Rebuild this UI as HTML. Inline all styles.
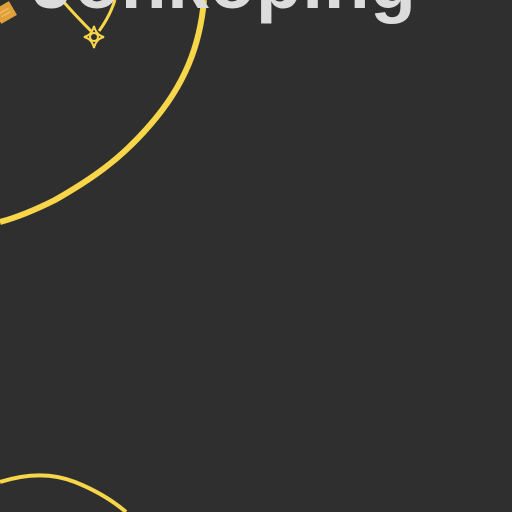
<!DOCTYPE html>
<html><head><style>
body{margin:0;width:512px;height:512px;overflow:hidden;background:#2f2f2f;position:relative;font-family:"Liberation Sans",sans-serif}
#label{position:absolute;left:32px;top:-55px;font-size:75px;font-weight:bold;color:#dcdcdc;white-space:nowrap;line-height:75px;letter-spacing:0.6px}
</style></head><body>
<svg width="512" height="512" style="position:absolute;left:0;top:0">
<path d="M204,0 C200,45 185,85 150,125 C120,160 90,180 55,200 C35,210 15,218 0,222" stroke="#f7d64a" stroke-width="6" fill="none"/>
<path d="M0,482 C25,474 50,472 75,482 C95,490 112,500 126,512" stroke="#f7d64a" stroke-width="4" fill="none"/>
<path d="M62,0 C75,15 85,25 91,31" stroke="#f7d64a" stroke-width="3" fill="none"/>
<path d="M115,0 C110,15 104,24 99,31" stroke="#f7d64a" stroke-width="3" fill="none"/>
<g>
<path d="M94,26 Q96,35 104,37 Q96,39 94,48 Q92,39 84,37 Q92,35 94,26 Z" fill="none" stroke="#f7d64a" stroke-width="2"/>
<circle cx="94" cy="37" r="4" fill="none" stroke="#f7d64a" stroke-width="2"/>
</g>
<g transform="translate(0,0) rotate(-30 6 12)">
<rect x="-4" y="4" width="18" height="16" fill="#e0a13a"/>
<line x1="0" y1="10" x2="10" y2="10" stroke="#f3c570" stroke-width="1"/>
<line x1="0" y1="14" x2="10" y2="14" stroke="#f3c570" stroke-width="1"/>
</g>
</svg>
<div id="label">Jönköping</div>
</body></html>
